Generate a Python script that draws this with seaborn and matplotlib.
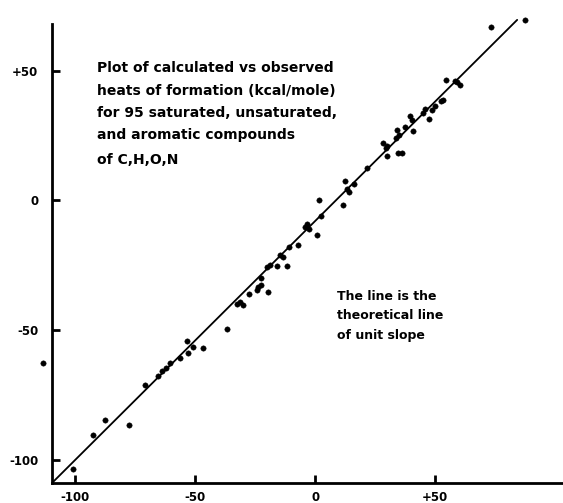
import matplotlib
matplotlib.use("Agg")
import matplotlib.pyplot as plt
import seaborn as sns
import pandas as pd

# observed (x) vs calculated (y) heats of formation, kcal/mole
observed = [-113.3, -100.8, -92.5, -87.5, -77.5, -70.8, -65.4, -63.8, -62.1, -60.4,
            -56.3, -53.3, -52.9, -50.8, -46.7, -36.7, -32.5, -31.3, -30.0, -27.5,
            -24.2, -23.8, -22.5, -19.6, -22.5, -20.0, -18.8, -15.8, -11.7, -14.6,
            -13.3, -10.8, -7.1, -4.2, -3.3, -2.5, 0.8, 2.5, 1.7, 11.7,
            12.5, 13.3, 14.2, 16.3, 21.7, 30.0, 29.6, 28.3, 34.6, 33.8,
            35.0, 30.0, 36.3, 34.2, 37.5, 40.8, 39.6, 40.4, 45.8, 45.0,
            47.5, 48.8, 50.0, 52.5, 53.3, 54.6, 58.3, 59.2, 60.4, 73.3, 87.5]
calculated = [-62.6, -103.4, -90.5, -84.4, -86.3, -71.0, -67.6, -65.6, -64.5, -62.6,
              -60.7, -54.2, -58.8, -56.5, -56.9, -49.6, -39.7, -39.3, -40.1, -35.9,
              -34.4, -33.2, -32.4, -35.1, -29.8, -25.6, -24.8, -25.2, -25.2, -21.0,
              -21.8, -17.9, -17.2, -10.3, -9.2, -11.1, -13.4, -6.1, 0.0, -1.9,
              7.6, 4.2, 3.1, 6.5, 12.6, 17.2, 20.2, 22.1, 18.3, 24.0,
              25.2, 21.0, 18.3, 27.1, 28.2, 26.7, 32.4, 30.9, 35.1, 33.6,
              31.3, 34.7, 36.3, 38.2, 38.5, 46.2, 45.8, 45.4, 44.3, 66.8, 69.5]

# theoretical line, end points as drawn
line_x = [-109.6, 84.2]
line_y = [-108.8, 69.5]

xtick_vals = [-100, -50, 0, 50]
xtick_labels = ["-100", "-50", "0", "+50"]
ytick_vals = [-100, -50, 0, 50]
ytick_labels = ["-100", "-50", "0", "+50"]

title_lines = ["Plot of calculated vs observed",
               "heats of formation (kcal/mole)",
               "for 95 saturated, unsaturated,",
               "and aromatic compounds",
               "of C,H,O,N"]
note_lines = ["The line is the",
              "theoretical line",
              "of unit slope"]

sns.set_theme(style="ticks")
plt.rcParams["font.family"] = ["DejaVu Sans"]
plt.rcParams["text.color"] = "black"

fig = plt.figure(figsize=(5.63, 5.03), dpi=100)
ax = fig.add_axes([0.0924, 0.0398, 0.9076, 0.9284])

df = pd.DataFrame({"observed": observed, "calculated": calculated})
sns.lineplot(x=line_x, y=line_y, ax=ax, color="black", linewidth=1.3)
sns.scatterplot(data=df, x="observed", y="calculated", ax=ax, color="black",
                s=15, edgecolor="black", linewidth=0.3, clip_on=False, zorder=3)

ax.set_xlim(-109.6, 103.3)
ax.set_ylim(-108.8, 71.0)
ax.set_xlabel("")
ax.set_ylabel("")

for side in ["top", "right"]:
    ax.spines[side].set_visible(False)
ax.spines["left"].set_bounds(-108.8, 68.0)
for side in ["left", "bottom"]:
    ax.spines[side].set_linewidth(2.0)
    ax.spines[side].set_color("black")

ax.set_xticks(xtick_vals)
ax.set_xticklabels(xtick_labels, fontsize=8.5, fontweight="bold", color="black")
ax.set_yticks(ytick_vals)
ax.set_yticklabels(ytick_labels, fontsize=8.5, fontweight="bold", color="black")
ax.tick_params(axis="both", which="major", direction="in", length=6, width=2,
               colors="black", left=True, bottom=True)
ax.tick_params(axis="x", pad=6)
ax.tick_params(axis="y", pad=10)

title_y = [50.8, 42.0, 33.6, 25.2, 15.6]
for txt, yy in zip(title_lines, title_y):
    ax.text(-90.8, yy, txt, fontsize=10, fontweight="bold", va="center",
            ha="left", color="black")

note_y = [-37.0, -44.3, -51.9]
for txt, yy in zip(note_lines, note_y):
    ax.text(9.2, yy, txt, fontsize=9, fontweight="bold", va="center",
            ha="left", color="black")

fig.savefig("out.png", dpi=100, facecolor="white")
